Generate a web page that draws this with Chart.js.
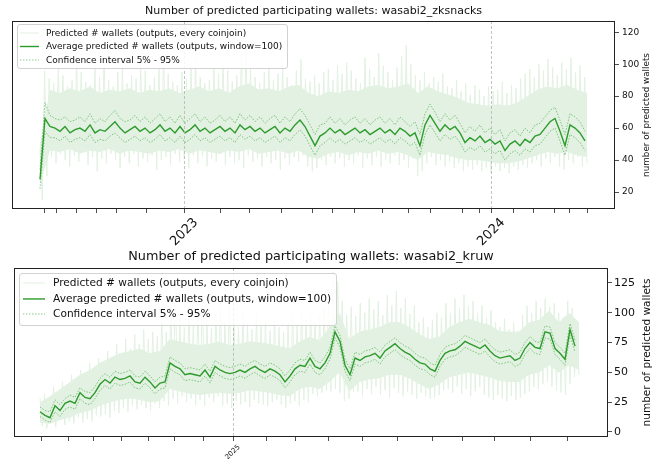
<!DOCTYPE html>
<html>
<head>
<meta charset="utf-8">
<script src="https://cdn.jsdelivr.net/npm/chart.js@4.4.1/dist/chart.umd.min.js"></script>
<style>
  html, body { margin: 0; padding: 0; background: #fff; }
  #wrap { position: relative; width: 660px; height: 459px; overflow: hidden; }
  canvas { position: absolute; left: 0; }
  #top { top: 0; }
  #bottom { top: 240px; }
</style>
</head>
<body>
<div id="wrap">
  <canvas id="top" width="660" height="250"></canvas>
  <canvas id="bottom" width="660" height="219"></canvas>
</div>
<script>
// ---- wasabi2_zksnacks ----
const zkTitle = 'Number of predicted participating wallets: wasabi2_zksnacks';
// raw per-coinjoin values, read as alternating peaks / troughs
const zkRawHigh = [48,96,91,88,99,93,86,90,102,95, 89,87,97,92,104,90,86,95,99,88,
  93,91,100,96,87,92,98,106,94,89, 87,95,91,99,103,92,88,90,97,94,
  101,96,89,93,108,111,97,92,88,95, 99,90,94,100,92,87,96,103,91,89,
  93,88,95,97,90,99,94,101,96,91, 88,104,97,92,107,99,95,90,98,105,
  112,100,93,90,95,88,92,89,94,86, 85,90,83,88,81,87,84,80,86,83,
  84,89,82,87,85,91,94,97,92,100, 96,103,98,93,101,97,104,95,99,92];
const zkRawLow = [15,30,42,38,44,40,36,43,39,45, 37,42,33,41,38,44,40,35,42,38,
  44,36,41,39,43,34,40,42,37,44, 39,41,35,43,38,42,36,41,39,44,
  37,42,38,40,35,43,39,41,36,42, 38,40,34,41,37,42,39,43,36,33,
  35,40,37,42,38,41,36,40,38,43, 35,41,37,42,36,40,38,43,37,40,
  35,41,30,33,38,42,37,40,36,39, 35,38,33,36,34,37,33,35,32,36,
  33,35,32,36,34,37,35,38,40,36, 41,38,42,36,34,40,38,42,36,38];
// dense core of the raw values (where most coinjoins fall)
const zkBodyHigh = [50,84,82,85,83,86,82,84,83,85, 82,84,83,85,82,84,86,83,85,82,
  86,88,84,85,83,86,87,82,80,83, 82,84,83,86,87,85,86,88,82,86,
  83,81,79,76,75,74,75,74,76,80, 84,86,85,87,84,82];
const zkBodyLow = [25,46,45,47,44,46,45,47,44,46, 45,44,46,45,47,44,46,45,44,46,
  45,47,44,45,46,44,46,42,41,44, 45,43,45,44,46,44,45,43,40,45,
  44,43,41,40,40,39,38,38,39,41, 43,45,44,45,43,42];
const zkAvg = [28,66,61,60,58,61,57,59,60,58, 62,57,59,58,61,64,60,57,59,61,
  58,60,57,59,62,58,60,57,61,57, 59,62,58,60,57,59,61,58,60,57,
  62,59,61,58,60,57,59,61,57,60, 58,62,65,61,55,49,55,57,60,57,
  59,56,58,60,57,59,56,58,60,57, 59,56,60,58,55,57,49,62,68,63,
  58,62,59,61,57,51,54,52,55,51, 53,50,52,46,50,52,49,53,51,55,
  56,60,64,66,58,49,62,60,57,52];
const zkCiHigh = [34,76,68,66,65,67,64,65,67,64, 69,63,66,64,68,71,66,64,65,68,
  64,67,63,66,69,64,67,63,68,63, 66,69,64,67,63,65,68,64,67,63,
  69,65,68,64,67,63,66,68,63,67, 64,69,72,68,62,56,62,63,67,63,
  66,62,65,67,63,66,62,65,67,63, 66,62,67,64,61,64,56,69,75,70,
  64,69,65,68,63,57,61,58,62,57, 60,56,59,52,57,59,55,60,57,62,
  63,67,71,73,65,56,69,67,64,58];
const zkCiLow = [22,58,54,54,52,55,51,53,54,52, 56,51,53,52,55,57,54,51,53,55,
  52,54,51,53,56,52,54,51,55,51, 53,56,52,54,51,53,55,52,54,51,
  56,53,55,52,54,51,53,55,51,54, 52,56,59,55,49,43,49,51,54,51,
  53,50,52,54,51,53,50,52,54,51, 53,50,54,52,49,51,43,56,62,57,
  52,56,53,55,51,45,48,46,49,45, 47,44,46,40,44,46,43,47,45,49,
  50,54,58,60,52,43,56,54,51,46];
const zkXTicks = [4,17,36,56,76,106,144,180,209,241,272,292,314,342,368,390,422,439,451,473,493,514,529,547];
const zkXLabels = ['','','','','','','2023','','','','','','','','','','','','2024','','','','',''];
const zkYTicks = [20,40,60,80,100,120];

// ---- wasabi2_kruw ----
const krTitle = 'Number of predicted participating wallets: wasabi2_kruw';
const krRawHigh = [28,32,26,38,30,42,36,48,40,52, 45,58,50,62,56,68,60,74,66,78,
  70,82,74,86,78,84,80,95,84,108, 125,96,88,100,90,104,118,95,87,99,
  108,92,112,94,88,100,91,86,97,89, 94,85,96,88,84,92,98,90,104,95,
  100,92,97,105,120,134,126,110,98,105, 97,108,100,112,103,110,98,115,106,118,
  104,112,99,106,92,96,88,94,100,96, 108,100,112,104,115,106,110,100,106,96,
  102,92,88,95,86,92,85,98,106,100, 110,104,112,105,108,100,96,110,104,92];
const krRawLow = [5,3,8,4,10,6,9,7,12,8, 11,9,14,13,15,12,18,16,20,17,
  22,19,23,20,18,24,20,26,22,28, 24,30,25,28,23,27,22,29,25,30,
  22,24,20,26,23,25,21,27,24,23, 22,25,27,23,20,24,26,22,27,25,
  32,30,33,35,34,36,33,26,28,34, 34,30,36,32,38,31,35,29,37,33,
  30,34,31,28,33,30,28,29,31,35, 36,33,38,32,36,30,34,38,31,29,
  27,31,28,26,30,27,29,32,34,38, 36,40,42,38,35,33,31,40,46,48];
const krBodyHigh = [25,30,36,42,48,52,58,62,66,68, 70,66,68,78,76,74,73,74,76,73,
  74,76,75,74,72,70,76,80,77,88, 100,78,84,86,88,92,92,88,82,78,
  80,88,92,95,92,90,85,84,84,92, 94,102,92,100,92];
const krBodyLow = [8,7,10,12,16,18,22,25,27,28, 27,25,26,36,34,32,31,32,33,32,
  33,35,34,33,31,30,36,38,36,42, 50,34,42,44,45,48,48,45,40,36,
  40,46,48,50,48,46,43,42,42,48, 50,56,50,56,52];
const krAvg = [17,14,12,22,18,24,26,24,33,29, 28,33,40,44,41,46,44,45,47,42,
  41,46,42,37,41,42,58,55,53,48, 49,48,47,52,46,55,52,50,49,50,
  52,50,53,55,52,50,53,51,48,42, 47,53,56,55,62,55,53,58,66,84,
  76,56,48,62,60,63,64,66,62,68, 71,74,70,67,65,61,58,57,53,51,
  60,66,68,69,72,76,74,72,70,73, 68,64,62,63,64,60,62,70,75,71,
  70,84,83,70,66,61,86,72];
const krCiHigh = [21,18,17,27,23,28,31,29,37,34, 33,38,45,49,46,51,49,50,52,47,
  46,51,47,42,46,47,63,60,58,53, 54,53,52,57,51,60,57,55,54,55,
  57,55,58,60,57,55,58,56,53,47, 52,58,61,60,67,60,58,63,71,89,
  81,61,53,67,65,68,69,71,67,73, 76,79,75,72,70,66,63,62,58,56,
  65,71,73,74,77,81,79,77,75,78, 73,69,67,68,69,65,67,75,80,76,
  75,89,88,75,71,66,91,77];
const krCiLow = [13,10,8,17,13,19,21,19,28,24, 23,28,35,39,36,41,39,40,42,37,
  36,41,37,32,36,37,53,50,48,43, 44,43,42,47,41,50,47,45,44,45,
  47,45,48,50,47,45,48,46,43,37, 42,48,51,50,57,50,48,53,61,79,
  71,51,43,57,55,58,59,61,57,63, 66,69,65,62,60,56,53,52,48,46,
  55,61,63,64,67,71,69,67,65,68, 63,59,57,58,59,55,57,65,70,66,
  65,79,78,65,61,56,81,67];
const krXTicks = [1,28,53,81,108,134,163,193,226,255,288,322,357,392,423,454,490,527];
const krXLabels = ['','','','','','','','2025','','','','','','','','','',''];
const krYTicks = [0,25,50,75,100,125];

const LABELS = [
  'Predicted # wallets (outputs, every coinjoin)',
  'Average predicted # wallets (outputs, window=100)',
  'Confidence interval 5% - 95%'
];
const RAW_COLOR = 'rgb(226,241,225)';

Chart.defaults.font.family = '"DejaVu Sans", sans-serif';
Chart.defaults.color = '#111';

// full box around the plot area (matplotlib spines) + dashed year lines
const frameBox = {
  id: 'frameBox',
  afterDatasetsDraw(chart, args, o) {
    const { ctx, chartArea: a } = chart;
    const xs = chart.scales.x;
    ctx.save();
    ctx.beginPath();
    ctx.rect(a.left, a.top, a.right - a.left, a.bottom - a.top);
    ctx.clip();
    ctx.strokeStyle = '#b4b4b4';
    ctx.lineWidth = 0.8;
    ctx.setLineDash([3, 2]);
    o.years.forEach(v => {
      const px = Math.round(xs.getPixelForValue(v)) + 0.5;
      ctx.beginPath();
      ctx.moveTo(px, a.top);
      ctx.lineTo(px, a.bottom);
      ctx.stroke();
    });
    ctx.restore();
    ctx.save();
    ctx.strokeStyle = '#222';
    ctx.lineWidth = 1;
    ctx.strokeRect(Math.round(a.left) + 0.5, Math.round(a.top) + 0.5,
      Math.round(a.right - a.left) - 1, Math.round(a.bottom - a.top) - 1);
    ctx.restore();
  }
};

// legend box in the upper left of the plot
const boxLegend = {
  id: 'boxLegend',
  afterDraw(chart, args, o) {
    const { ctx, chartArea: a } = chart;
    const items = chart.data.datasets.filter(d => d.label);
    ctx.save();
    ctx.font = o.size + 'px "DejaVu Sans"';
    let tw = 0;
    items.forEach(d => { tw = Math.max(tw, ctx.measureText(d.label).width); });
    const x = a.left + o.x, y = a.top + o.y;
    const w = o.textX - o.x + tw + o.padRight;
    ctx.beginPath();
    ctx.roundRect(Math.round(x) + 0.5, Math.round(y) + 0.5, Math.round(w), o.h, 2.5);
    ctx.fillStyle = 'rgba(255,255,255,0.85)';
    ctx.fill();
    ctx.strokeStyle = '#d2d2d2';
    ctx.lineWidth = 1;
    ctx.stroke();
    items.forEach((d, i) => {
      const ry = a.top + o.rows[i];
      ctx.beginPath();
      ctx.setLineDash(d.borderDash || []);
      ctx.strokeStyle = d.borderColor;
      ctx.lineWidth = d.borderWidth;
      ctx.moveTo(a.left + o.h1, ry);
      ctx.lineTo(a.left + o.h2, ry);
      ctx.stroke();
      ctx.setLineDash([]);
      ctx.fillStyle = '#111';
      ctx.textBaseline = 'middle';
      ctx.fillText(d.label, a.left + o.textX, ry + 0.5);
    });
    ctx.restore();
  }
};

// right-hand axis title, reading bottom to top
const yTitle = {
  id: 'yTitle',
  afterDraw(chart, args, o) {
    const { ctx, chartArea: a } = chart;
    ctx.save();
    ctx.translate(o.x, (a.top + a.bottom) / 2);
    ctx.rotate(-Math.PI / 2);
    ctx.font = o.size + 'px "DejaVu Sans"';
    ctx.fillStyle = '#111';
    ctx.textAlign = 'center';
    ctx.textBaseline = 'middle';
    ctx.fillText(o.text, 0, 0);
    ctx.restore();
  }
};

function zigzag(high, low, span) {
  const n = high.length * 2;
  const pts = [];
  for (let i = 0; i < high.length; i++) {
    pts.push({ x: (2 * i) * span / (n - 1), y: high[i] });
    pts.push({ x: (2 * i + 1) * span / (n - 1), y: low[i] });
  }
  return pts;
}
function sampled(values, step) {
  return values.map((v, i) => ({ x: i * step, y: v }));
}

function makeChart(el, s) {
  const ciStyle = { borderColor: 'rgba(44,160,44,0.55)', borderWidth: 1, borderDash: [1.5, 1.5], order: 2 };
  const bodyStep = s.span / (s.bodyHigh.length - 1);
  const years = s.xTicks.filter((v, i) => s.xLabels[i]);
  return new Chart(el, {
    type: 'line',
    data: {
      datasets: [
        { label: LABELS[0], data: zigzag(s.rawHigh, s.rawLow, s.span),
          borderColor: RAW_COLOR, borderWidth: 1, borderJoinStyle: 'bevel', order: 3 },
        { label: LABELS[1], data: sampled(s.avg, 5),
          borderColor: 'rgb(44,155,44)', borderWidth: 1.4, order: 1 },
        Object.assign({ label: LABELS[2], data: sampled(s.ciHigh, 5) }, ciStyle),
        Object.assign({ label: '', data: sampled(s.ciLow, 5) }, ciStyle),
        { label: '', data: sampled(s.bodyHigh, bodyStep), borderWidth: 0,
          backgroundColor: RAW_COLOR, fill: '+1', order: 4 },
        { label: '', data: sampled(s.bodyLow, bodyStep), borderWidth: 0, fill: false, order: 4 }
      ]
    },
    options: {
      responsive: false,
      animation: false,
      devicePixelRatio: 1,
      events: [],
      elements: { point: { radius: 0 }, line: { tension: 0 } },
      layout: { padding: { left: s.padLeft, right: 0, top: 0, bottom: 0 } },
      scales: {
        x: {
          type: 'linear',
          min: s.xMin, max: s.xMax,
          afterBuildTicks: sc => { sc.ticks = s.xTicks.map(v => ({ value: v })); },
          afterFit: sc => { sc.height = s.xAxisH; },
          grid: {
            drawOnChartArea: false,
            tickLength: 4,
            tickColor: '#222',
            tickWidth: 0.8
          },
          border: { display: false },
          ticks: {
            autoSkip: false, minRotation: 45, maxRotation: 45,
            callback: (v, i) => s.xLabels[i],
            font: { size: s.xFont }, color: '#111', padding: s.xPad, labelOffset: s.labelOffset
          }
        },
        y: {
          position: 'right',
          min: s.yMin, max: s.yMax,
          afterBuildTicks: sc => { sc.ticks = s.yTicks.map(v => ({ value: v })); },
          afterFit: sc => { sc.width = s.yAxisW; },
          grid: { drawOnChartArea: false, tickLength: 4, tickColor: '#222', tickWidth: 0.8 },
          border: { display: false },
          ticks: { font: { size: s.yFont }, color: '#111', padding: s.yPad }
        }
      },
      plugins: {
        legend: { display: false },
        tooltip: { enabled: false },
        title: {
          display: true, text: s.title, fullSize: false, color: '#111',
          font: { size: s.titleSize, weight: 'normal' },
          padding: { top: s.titleTop, bottom: s.titleBottom }
        },
        frameBox: { years: years },
        boxLegend: s.legend,
        yTitle: { x: 647, size: s.yTitleSize, text: 'number of predicted wallets' }
      }
    },
    plugins: [frameBox, boxLegend, yTitle]
  });
}

makeChart(document.getElementById('top'), {
  title: zkTitle, rawHigh: zkRawHigh, rawLow: zkRawLow, span: 547,
  bodyHigh: zkBodyHigh, bodyLow: zkBodyLow,
  avg: zkAvg, ciHigh: zkCiHigh, ciLow: zkCiLow,
  xTicks: zkXTicks, xLabels: zkXLabels, yTicks: zkYTicks,
  xMin: -28, xMax: 575, yMin: 9.4, yMax: 127,
  padLeft: 12, xAxisH: 41, yAxisW: 45,
  xFont: 13, labelOffset: 12, xPad: 2, yFont: 9, yPad: 3,
  titleSize: 11, titleTop: 4.4, titleBottom: 3.4, yTitleSize: 8.8,
  legend: { x: 5, y: 3, h: 44, h1: 8, h2: 27, textX: 34, padRight: 5, rows: [12, 25.5, 39], size: 9 }
});

makeChart(document.getElementById('bottom'), {
  title: krTitle, rawHigh: krRawHigh, rawLow: krRawLow, span: 539,
  bodyHigh: krBodyHigh, bodyLow: krBodyLow,
  avg: krAvg, ciHigh: krCiHigh, ciLow: krCiLow,
  xTicks: krXTicks, xLabels: krXLabels, yTicks: krYTicks,
  xMin: -26, xMax: 568, yMin: -4.2, yMax: 137.6,
  padLeft: 14, xAxisH: 22, yAxisW: 52,
  xFont: 7, labelOffset: 6, xPad: 2, yFont: 11, yPad: 2,
  titleSize: 12.8, titleTop: 9.3, titleBottom: 3.3, yTitleSize: 10.5,
  legend: { x: 5, y: 5, h: 52, h1: 9, h2: 31, textX: 39, padRight: 5, rows: [15, 31, 46], size: 10.6 }
});
</script>
</body>
</html>
